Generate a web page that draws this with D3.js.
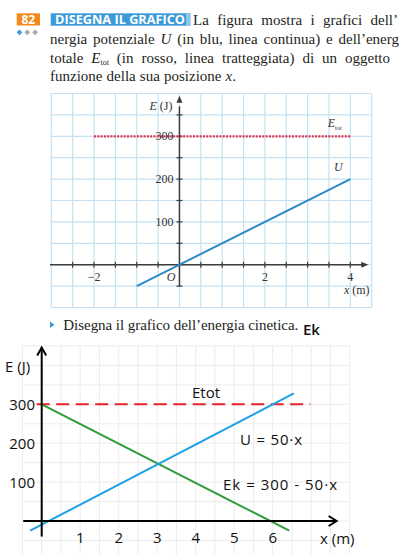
<!DOCTYPE html>
<html>
<head>
<meta charset="utf-8">
<script src="https://cdn.jsdelivr.net/npm/d3@7"></script>
<style>
  html, body { margin: 0; padding: 0; background: #fff; overflow: hidden; }
  svg { display: block; }
</style>
</head>
<body>
<svg id="page" width="400" height="554"></svg>
<script>
// top (printed) chart values
let topGridX = d3.range(-3, 4.51, 0.5)
let topGridY = d3.range(-100, 401, 50)
let topTickX = d3.range(-2.5, 4.01, 0.5)
let topTickY = d3.range(-50, 351, 50)
let topLabelsX = [-2, 2, 4]
let topLabelsY = [100, 200, 300]
let topU = [[-1, -50], [4, 200]]
let topEtot = [[-2, 300], [4, 300]]

// bottom (hand drawn) chart values
let botGridX = d3.range(-0.5, 8.01, 0.5)
let botGridY = d3.range(-100, 451, 50)
let botLabelsX = [1, 2, 3, 4, 5, 6]
let botLabelsY = [100, 200, 300]
let botU = [[-0.3, -25], [6.55, 328]]
let botEk = [[0, 300], [6.43, -25]]
let botEtot = [[-0.13, 300], [6.98, 300]]

let svg = d3.select('#page')
let serif = '"Liberation Serif", "Times New Roman", serif'
let sans = '"Open Sans", "Noto Sans", sans-serif'

//////////// header
svg.append('rect').attr('x', 16.7).attr('y', 13.3).attr('width', 23.3).attr('height', 12.2).attr('fill', '#f08a1e')
svg.append('text').attr('x', 28.3).attr('y', 23.6).attr('text-anchor', 'middle')
    .style('font-family', sans).style('font-weight', 'bold').style('font-size', '12px').attr('fill', '#fff').text('82')

let diamondColors = ['#3b9be0', '#a7a9ac', '#a7a9ac']
svg.selectAll('.diamond').data(diamondColors).enter().append('rect')
    .attr('class', 'diamond')
    .attr('width', 4).attr('height', 4)
    .attr('transform', (d, i) => 'translate(' + (19.5 + i * 7.8) + ',32.3) rotate(45) translate(-2,-2)')
    .attr('fill', d => d)

svg.append('rect').attr('x', 50.7).attr('y', 13.3).attr('width', 139.3).attr('height', 12.4).attr('fill', '#3d9ad8')
svg.append('rect').attr('x', 186).attr('y', 13.3).attr('width', 4.7).attr('height', 12.4).attr('fill', '#8cc6ec')
svg.append('text').attr('x', 55).attr('y', 24).attr('textLength', 130).attr('lengthAdjust', 'spacingAndGlyphs')
    .style('font-family', sans).style('font-weight', 'bold').style('font-size', '12.5px').attr('fill', '#fff')
    .text('DISEGNA IL GRAFICO')

// justified line: widen word spacing until it fills len
function para(x, y, len, parts) {
    let t = svg.append('text').attr('x', x).attr('y', y)
        .style('font-family', serif).style('font-size', '15px').attr('fill', '#231f20')
    parts.forEach(p => {
        let s = t.append('tspan').text(p.t)
        if (p.i) s.style('font-style', 'italic')
        if (p.sub) s.style('font-size', '8px').attr('dy', 2.5)
        if (p.up) s.attr('dy', -2.5)
    })
    if (len) {
        let natural = t.node().getComputedTextLength()
        let spaces = parts.map(p => p.t).join('').split(' ').length - 1
        if (spaces > 0) t.style('word-spacing', ((len - natural) / spaces) + 'px')
    }
    return t
}
para(193, 24.5, 205, [{t: 'La figura mostra i grafici dell’'}])
para(50, 44, 349, [{t: 'nergia potenziale '}, {t: 'U', i: true}, {t: ' (in blu, linea continua) e dell’energ'}])
para(50, 62.5, 340, [{t: 'totale '}, {t: 'E', i: true}, {t: 'tot', sub: true}, {t: ' (in rosso, linea tratteggiata) di un oggetto', up: true}])
para(50, 81, 186, [{t: 'funzione della sua posizione '}, {t: 'x', i: true}, {t: '.'}])

//////////// top chart
let topX = d3.scaleLinear().domain([-3, 4.5]).range([51.3, 371.7])
let topY = d3.scaleLinear().domain([-100, 400]).range([307.5, 93.5])
let topG = svg.append('g')

topG.selectAll('.gx').data(topGridX).enter().append('line')
    .attr('x1', d => topX(d)).attr('x2', d => topX(d))
    .attr('y1', topY(-100)).attr('y2', topY(400))
    .attr('stroke', '#c4e2f3').attr('stroke-width', 1.2)
topG.selectAll('.gy').data(topGridY).enter().append('line')
    .attr('y1', d => topY(d)).attr('y2', d => topY(d))
    .attr('x1', topX(-3)).attr('x2', topX(4.5))
    .attr('stroke', '#c4e2f3').attr('stroke-width', 1.2)

let axisCol = '#3c3c3c'
// x axis
topG.append('line').attr('x1', topX(-3.03)).attr('x2', topX(4.32))
    .attr('y1', topY(0)).attr('y2', topY(0)).attr('stroke', axisCol).attr('stroke-width', 1.5)
topG.append('path').attr('fill', axisCol)
    .attr('d', 'M' + topX(4.42) + ',' + topY(0) + 'l-7,-3l0,6z')
topG.selectAll('.tx').data(topTickX).enter().append('line')
    .attr('x1', d => topX(d)).attr('x2', d => topX(d))
    .attr('y1', topY(0) - 3).attr('y2', topY(0) + 3)
    .attr('stroke', axisCol).attr('stroke-width', 1.2)
// y axis
topG.append('line').attr('x1', topX(0)).attr('x2', topX(0))
    .attr('y1', topY(-50)).attr('y2', topY(370)).attr('stroke', axisCol).attr('stroke-width', 1.5)
topG.append('path').attr('fill', axisCol)
    .attr('d', 'M' + topX(0) + ',' + topY(395) + 'l-3,7l6,0z')
topG.selectAll('.ty').data(topTickY).enter().append('line')
    .attr('y1', d => topY(d)).attr('y2', d => topY(d))
    .attr('x1', topX(0) - 3).attr('x2', topX(0) + 3)
    .attr('stroke', axisCol).attr('stroke-width', 1.2)

let topLine = d3.line().x(d => topX(d[0])).y(d => topY(d[1]))
topG.append('path').datum(topEtot).attr('d', topLine)
    .attr('fill', 'none').attr('stroke', '#dc3450').attr('stroke-width', 2.2).attr('stroke-dasharray', '2,1.3')
topG.append('path').datum(topU).attr('d', topLine)
    .attr('fill', 'none').attr('stroke', '#2b8ac8').attr('stroke-width', 2)

let labStyle = s => s.style('font-family', serif).style('font-size', '12px').attr('fill', '#333')
topG.selectAll('.ly').data(topLabelsY).enter().append('text')
    .attr('x', topX(0) - 6).attr('y', d => topY(d) + 4).attr('text-anchor', 'end')
    .call(labStyle).text(d => d)
topG.selectAll('.lx').data(topLabelsX).enter().append('text')
    .attr('x', d => topX(d)).attr('y', topY(0) + 16).attr('text-anchor', 'middle')
    .call(labStyle).text(d => d < 0 ? '−' + Math.abs(d) : d)
topG.append('text').attr('x', topX(0) - 4).attr('y', topY(0) + 16).attr('text-anchor', 'end')
    .call(labStyle).style('font-style', 'italic').text('O')

let eLab = topG.append('text').attr('x', topX(0) - 7).attr('y', topY(370) + 4).attr('text-anchor', 'end').call(labStyle)
eLab.append('tspan').style('font-style', 'italic').text('E')
eLab.append('tspan').text(' (J)')
let xLab = topG.append('text').attr('x', topX(4.45)).attr('y', topY(0) + 29).attr('text-anchor', 'end').call(labStyle)
xLab.append('tspan').style('font-style', 'italic').text('x')
xLab.append('tspan').text(' (m)')
let etLab = topG.append('text').attr('x', topX(3.47)).attr('y', topY(300) - 9).call(labStyle)
etLab.append('tspan').style('font-style', 'italic').text('E')
etLab.append('tspan').attr('dy', 2.5).style('font-size', '6.5px').text('tot')
topG.append('text').attr('x', topX(3.62)).attr('y', topY(200) - 8).call(labStyle)
    .style('font-style', 'italic').text('U')

//////////// instruction
svg.append('path').attr('d', 'M50,321.5l4.5,3.2l-4.5,3.2z').attr('fill', '#3d9ad8')
svg.append('text').attr('x', 63.3).attr('y', 330).attr('textLength', 235).attr('lengthAdjust', 'spacing')
    .style('font-family', serif).style('font-size', '15px').attr('fill', '#231f20')
    .text('Disegna il grafico dell’energia cinetica.')
svg.append('text').attr('x', 303).attr('y', 335)
    .style('font-family', sans).style('font-size', '15px').style('font-weight', '600').attr('fill', '#111')
    .text('Ek')

//////////// bottom chart
let botX = d3.scaleLinear().domain([0, 6]).range([41.7, 272.7])
let botY = d3.scaleLinear().domain([0, 300]).range([521, 404.3])
let botG = svg.append('g')

botG.selectAll('.bgx').data(botGridX).enter().append('line')
    .attr('x1', d => botX(d)).attr('x2', d => botX(d))
    .attr('y1', botY(-100)).attr('y2', botY(450))
    .attr('stroke', '#ececec').attr('stroke-width', 1)
botG.selectAll('.bgy').data(botGridY).enter().append('line')
    .attr('y1', d => botY(d)).attr('y2', d => botY(d))
    .attr('x1', botX(-0.5)).attr('x2', botX(8))
    .attr('stroke', '#ececec').attr('stroke-width', 1)

let botLine = d3.line().x(d => botX(d[0])).y(d => botY(d[1]))
botG.append('path').datum(botEtot).attr('d', botLine)
    .attr('fill', 'none').attr('stroke', '#e8212b').attr('stroke-width', 2).attr('stroke-dasharray', '13,6.5')
botG.append('path').datum(botEk).attr('d', botLine)
    .attr('fill', 'none').attr('stroke', '#2f9c3c').attr('stroke-width', 2)
botG.append('path').datum(botU).attr('d', botLine)
    .attr('fill', 'none').attr('stroke', '#1ea0e6').attr('stroke-width', 2)

// axes with open arrow heads
botG.append('line').attr('x1', botX(0)).attr('x2', botX(0))
    .attr('y1', botY(-40)).attr('y2', botY(446)).attr('stroke', '#000').attr('stroke-width', 2)
botG.append('path').attr('fill', 'none').attr('stroke', '#000').attr('stroke-width', 2).attr('stroke-linejoin', 'miter')
    .attr('d', 'M' + (botX(0) - 4.5) + ',' + (botY(446) + 8) + 'l4.5,-8l4.5,8')
botG.append('line').attr('x1', botX(-0.48)).attr('x2', botX(7.66))
    .attr('y1', botY(0)).attr('y2', botY(0)).attr('stroke', '#000').attr('stroke-width', 2)
botG.append('path').attr('fill', 'none').attr('stroke', '#000').attr('stroke-width', 2)
    .attr('d', 'M' + (botX(7.66) - 8) + ',' + (botY(0) - 5) + 'l8,5l-8,5')

let sansStyle = s => s.style('font-family', sans).style('font-size', '15px').style('font-weight', '500').attr('fill', '#111')
botG.selectAll('.blx').data(botLabelsX).enter().append('text')
    .attr('x', d => botX(d)).attr('y', botY(0) + 22).attr('text-anchor', 'middle')
    .call(sansStyle).text(d => d)
botG.selectAll('.bly').data(botLabelsY).enter().append('text')
    .attr('x', 35).attr('y', d => botY(d) + 5.5).attr('text-anchor', 'end')
    .call(sansStyle).text(d => d)
botG.append('text').attr('x', 5).attr('y', 372).call(sansStyle).text('E (J)')
botG.append('text').attr('x', 320).attr('y', 544).call(sansStyle).text('x (m)')
botG.append('text').attr('x', 192).attr('y', 398).call(sansStyle).text('Etot')
botG.append('text').attr('x', 240).attr('y', 445).call(sansStyle).attr('textLength', 62).text('U = 50·x')
botG.append('text').attr('x', 223).attr('y', 489.5).call(sansStyle).attr('textLength', 114).text('Ek = 300 - 50·x')
</script>
</body>
</html>
